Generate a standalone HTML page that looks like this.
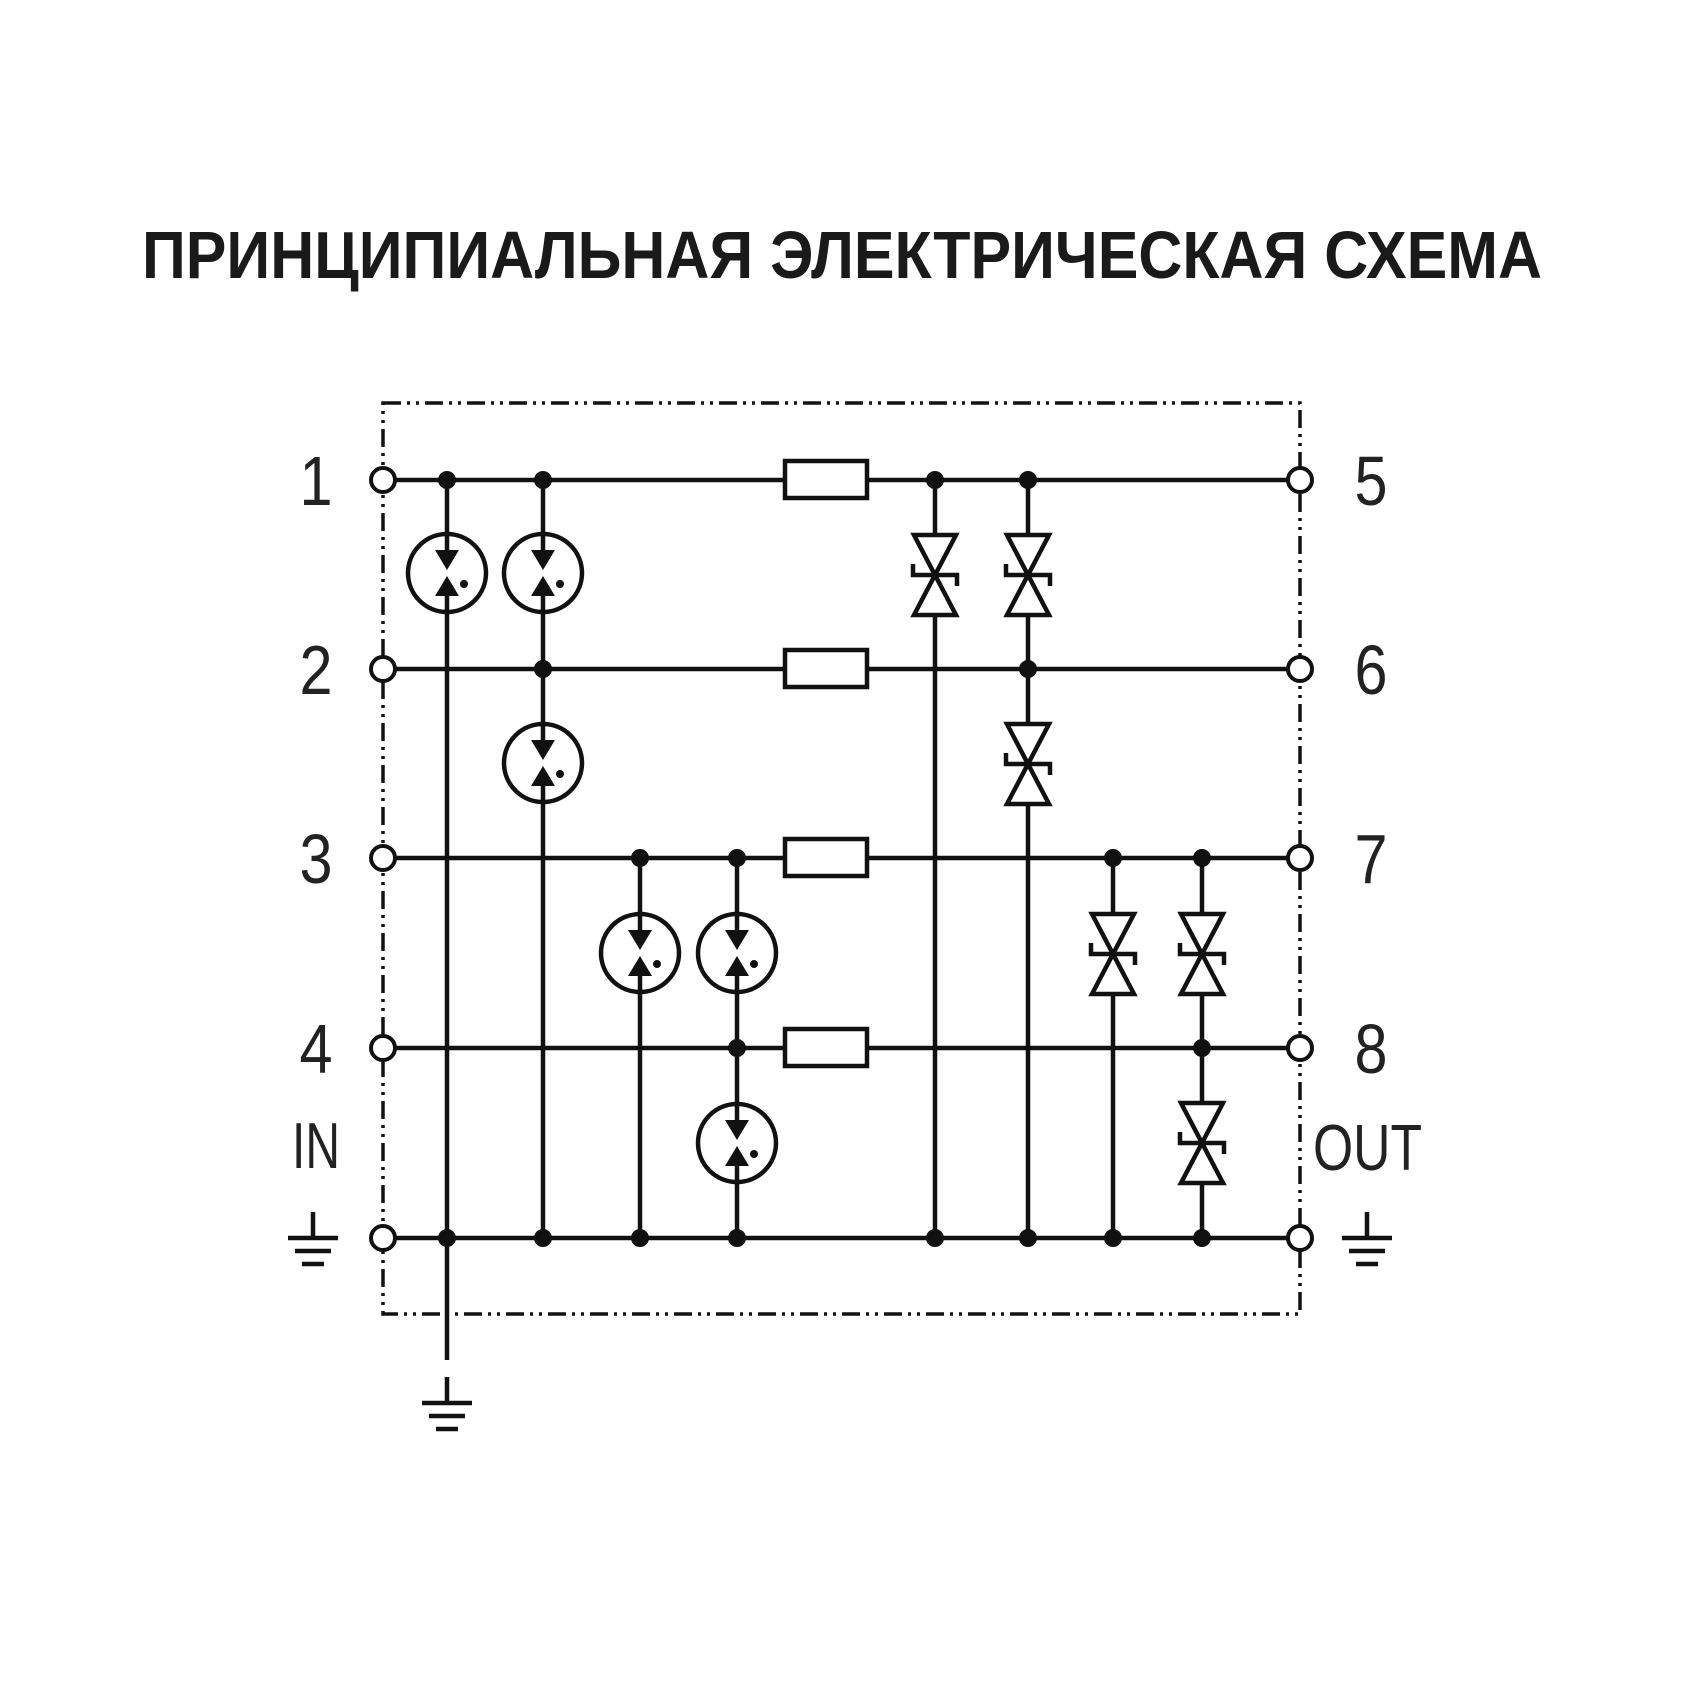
<!DOCTYPE html>
<html><head><meta charset="utf-8"><style>html,body{margin:0;padding:0;background:#fff}svg{display:block}</style></head>
<body>
<svg width="1701" height="1700" viewBox="0 0 1701 1700" xmlns="http://www.w3.org/2000/svg">
<defs>
<g id="gdt">
<circle cx="0" cy="0" r="39" fill="#fff" stroke="#111" stroke-width="4.5"/>
<line x1="0" y1="-39" x2="0" y2="-20" stroke="#111" stroke-width="4.5"/>
<line x1="0" y1="39" x2="0" y2="20" stroke="#111" stroke-width="4.5"/>
<polygon points="-12,-23 12,-23 0,-3" fill="#111"/>
<polygon points="-12,23 12,23 0,3" fill="#111"/>
<circle cx="17" cy="11" r="4" fill="#111"/>
</g>
<g id="tvs" fill="none" stroke="#111" stroke-width="4.5">
<polygon points="-21,-40 21,-40 0,0" fill="#fff"/>
<polygon points="-21,40 21,40 0,0" fill="#fff"/>
<polyline points="-22,-11 -22,0 22,0 22,11"/>
</g>
<g id="gnd" stroke="#111" stroke-width="4.5">
<line x1="0" y1="-26" x2="0" y2="0"/>
<line x1="-25" y1="0" x2="25" y2="0"/>
<line x1="-18" y1="13" x2="18" y2="13"/>
<line x1="-11" y1="26" x2="11" y2="26"/>
</g>
</defs>

<text x="842" y="278" text-anchor="middle" font-family="Liberation Sans, sans-serif" font-weight="bold" font-size="67" fill="#1a1a1a" textLength="1400" lengthAdjust="spacingAndGlyphs">ПРИНЦИПИАЛЬНАЯ ЭЛЕКТРИЧЕСКАЯ СХЕМА</text>

<rect x="383" y="403" width="917" height="911" fill="none" stroke="#111" stroke-width="3.5" stroke-dasharray="18 6 3 6 3 6"/>

<g stroke="#111" stroke-width="4.5" fill="none">
<line x1="383" y1="480" x2="1300" y2="480"/>
<line x1="383" y1="669" x2="1300" y2="669"/>
<line x1="383" y1="858" x2="1300" y2="858"/>
<line x1="383" y1="1048" x2="1300" y2="1048"/>
<line x1="383" y1="1238" x2="1300" y2="1238"/>
<line x1="447" y1="480" x2="447" y2="1360"/>
<line x1="543" y1="480" x2="543" y2="1238"/>
<line x1="640" y1="858" x2="640" y2="1238"/>
<line x1="737" y1="858" x2="737" y2="1238"/>
<line x1="935" y1="480" x2="935" y2="1238"/>
<line x1="1028" y1="480" x2="1028" y2="1238"/>
<line x1="1113" y1="858" x2="1113" y2="1238"/>
<line x1="1202" y1="858" x2="1202" y2="1238"/>
</g>

<g fill="#fff" stroke="#111" stroke-width="4.5">
<rect x="785" y="461" width="82" height="37"/>
<rect x="785" y="650" width="82" height="37"/>
<rect x="785" y="839" width="82" height="37"/>
<rect x="785" y="1029" width="82" height="37"/>
</g>

<use href="#gdt" x="447" y="573"/>
<use href="#gdt" x="543" y="573"/>
<use href="#gdt" x="543" y="763"/>
<use href="#gdt" x="640" y="953"/>
<use href="#gdt" x="737" y="953"/>
<use href="#gdt" x="737" y="1143"/>

<use href="#tvs" x="935" y="575"/>
<use href="#tvs" x="1028" y="575"/>
<use href="#tvs" x="1028" y="764"/>
<use href="#tvs" x="1113" y="954"/>
<use href="#tvs" x="1202" y="954"/>
<use href="#tvs" x="1202" y="1143"/>

<g fill="#111">
<circle cx="447" cy="480" r="9"/><circle cx="543" cy="480" r="9"/><circle cx="935" cy="480" r="9"/><circle cx="1028" cy="480" r="9"/>
<circle cx="543" cy="669" r="9"/><circle cx="1028" cy="669" r="9"/>
<circle cx="640" cy="858" r="9"/><circle cx="737" cy="858" r="9"/><circle cx="1113" cy="858" r="9"/><circle cx="1202" cy="858" r="9"/>
<circle cx="737" cy="1048" r="9"/><circle cx="1202" cy="1048" r="9"/>
<circle cx="447" cy="1238" r="9"/><circle cx="543" cy="1238" r="9"/><circle cx="640" cy="1238" r="9"/><circle cx="737" cy="1238" r="9"/>
<circle cx="935" cy="1238" r="9"/><circle cx="1028" cy="1238" r="9"/><circle cx="1113" cy="1238" r="9"/><circle cx="1202" cy="1238" r="9"/>
</g>

<g fill="#fff" stroke="#111" stroke-width="4">
<circle cx="383" cy="480" r="12"/><circle cx="383" cy="669" r="12"/><circle cx="383" cy="858" r="12"/><circle cx="383" cy="1048" r="12"/><circle cx="383" cy="1238" r="12"/>
<circle cx="1300" cy="480" r="12"/><circle cx="1300" cy="669" r="12"/><circle cx="1300" cy="858" r="12"/><circle cx="1300" cy="1048" r="12"/><circle cx="1300" cy="1238" r="12"/>
</g>

<use href="#gnd" x="313" y="1238"/>
<use href="#gnd" x="1367" y="1238"/>
<use href="#gnd" x="447" y="1403"/>

<g font-family="Liberation Sans, sans-serif" font-size="70" fill="#222" text-anchor="middle">
<text x="316" y="505" textLength="33" lengthAdjust="spacingAndGlyphs">1</text>
<text x="316" y="694" textLength="33" lengthAdjust="spacingAndGlyphs">2</text>
<text x="316" y="883" textLength="33" lengthAdjust="spacingAndGlyphs">3</text>
<text x="316" y="1073" textLength="33" lengthAdjust="spacingAndGlyphs">4</text>
<text x="1371" y="505" textLength="33" lengthAdjust="spacingAndGlyphs">5</text>
<text x="1371" y="694" textLength="33" lengthAdjust="spacingAndGlyphs">6</text>
<text x="1371" y="883" textLength="33" lengthAdjust="spacingAndGlyphs">7</text>
<text x="1371" y="1073" textLength="33" lengthAdjust="spacingAndGlyphs">8</text>
</g>
<g font-family="Liberation Sans, sans-serif" font-size="65" fill="#222">
<text x="292" y="1168" textLength="48" lengthAdjust="spacingAndGlyphs">IN</text>
<text x="1313" y="1170" textLength="109" lengthAdjust="spacingAndGlyphs">OUT</text>
</g>
</svg>
</body></html>
